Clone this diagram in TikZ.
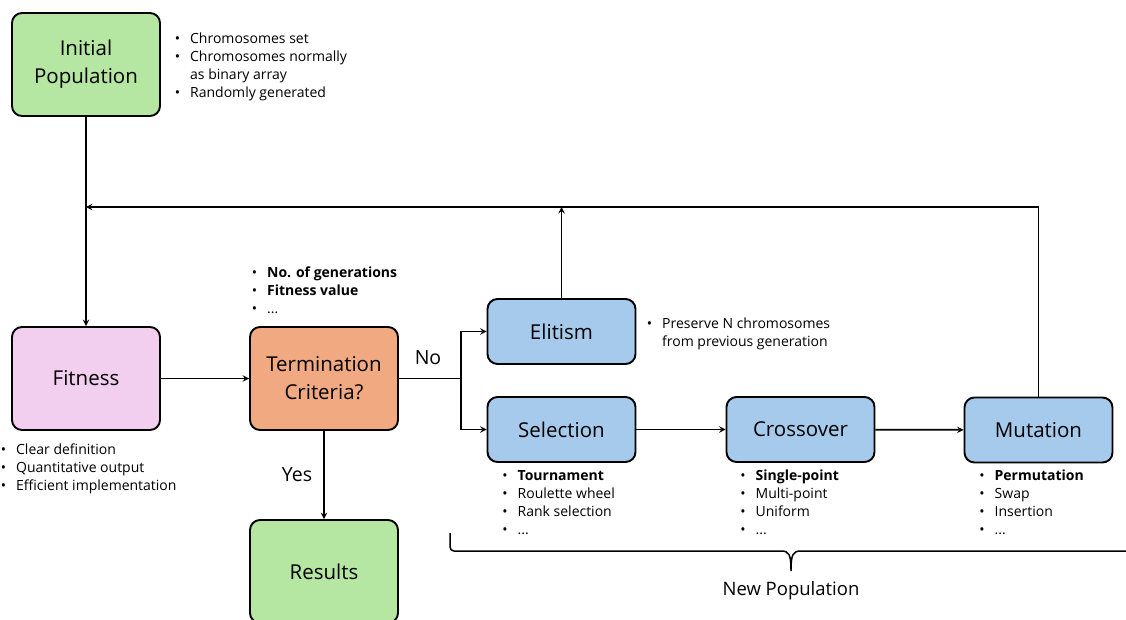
\documentclass[tikz,border=0pt]{standalone}
\usepackage{fontspec}
\setmainfont{Open Sans}
\usetikzlibrary{arrows, positioning}

\definecolor{boxgreen}{HTML}{B5E6A2}
\definecolor{boxpink}{HTML}{F2CEEF}
\definecolor{boxorange}{HTML}{F1A982}
\definecolor{boxblue}{HTML}{A6CAEC}

% bullet list: one row per item
\newcommand{\blist}[1]{{\fontsize{14}{18}\selectfont
    \begin{tabular}{@{}l@{\hspace{10pt}}l@{}}#1\end{tabular}}}

\begin{document}
\begin{tikzpicture}[x = 1pt, y = 1pt,
                > = stealth, % arrow head style
                line width = 1.8pt % line style
            ]

            \tikzset{box/.style = {draw = black, fill = boxblue, rounded corners = 10pt,
            line width = 1.9pt, minimum width = 148pt, minimum height = 103pt,
            align = center, font = \fontsize{20.5}{28}\selectfont},
            flat/.style = {box, minimum height = 65pt},
            note/.style = {anchor = north west, inner sep = 0pt},
            label/.style = {font = \fontsize{19.5}{22}\selectfont}}

            \useasboundingbox (0,0) rectangle (1126,-619);

            \node (init) [box, fill = boxgreen] at (86,-64.5) {Initial\\Population};
            \node (fit) [box, fill = boxpink] at (86,-378.5) {Fitness};
            \node (term) [box, fill = boxorange] at (324,-378.5) {Termination\\Criteria?};
            \node (res) [box, fill = boxgreen] at (324,-571.5) {Results};
            \node (elit) [flat] at (561.5,-331.5) {Elitism};
            \node (sel) [flat] at (561.5,-429.5) {Selection};
            \node (cross) [flat] at (800.5,-429.5) {Crossover};
            \node (mut) [flat] at (1038.5,-430) {Mutation};

            % notes next to the boxes
            \node (initnote) [note] at (174,-30) {\blist{\textbullet & Chromosomes set\\
            \textbullet & Chromosomes normally\\ & as binary array\\
            \textbullet & Randomly generated}};
            \node (termnote) [note] at (251,-264) {\blist{\textbullet & \textbf{No. of generations}\\
            \textbullet & \textbf{Fitness value}\\ \textbullet & ...}};
            \node (fitnote) [note] at (0,-441) {\blist{\textbullet & Clear definition\\
            \textbullet & Quantitative output\\ \textbullet & Efficient implementation}};
            \node (elitnote) [note] at (646,-315) {\blist{\textbullet & Preserve N chromosomes\\
            & from previous generation}};
            \node (selnote) [note, below right = 4pt and -60pt of sel.south] {\blist{\textbullet & \textbf{Tournament}\\
            \textbullet & Roulette wheel\\ \textbullet & Rank selection\\ \textbullet & ...}};
            \node (crossnote) [note, below right = 4pt and -61pt of cross.south] {\blist{\textbullet & \textbf{Single-point}\\
            \textbullet & Multi-point\\ \textbullet & Uniform\\ \textbullet & ...}};
            \node (mutnote) [note, below right = 4pt and -60pt of mut.south] {\blist{\textbullet & \textbf{Permutation}\\
            \textbullet & Swap\\ \textbullet & Insertion\\ \textbullet & ...}};

            \coordinate (back) at (86,-207);
            \coordinate (split) at (461,-378.5);

            \draw[->] (init) -- (fit);
            \draw[->] (fit) -- (term);
            \draw (term.east) -- (split);
            \draw[->] (split) |- (elit.west);
            \draw[->] (split) |- (sel.west);
            \draw[->] (term) -- (res);
            \draw[->] (sel) -- (cross);
            \draw[->] (cross) -- (mut);
            \draw[->] (mut.north) |- (back);
            \draw[->] (elit.north) -- (elit.north |- back);

            \node (no) [label] at (428,-358) {No};
            \node (yes) [label] at (297,-475) {Yes};

            % brace under the new population
            \coordinate (bl) at (450,-533);
            \coordinate (tip) at (791,-571);
            \draw[line width = 1.5pt, rounded corners = 4pt] (bl) |- (781,-551);
            \draw[line width = 1.5pt] (781,-551) .. controls (789,-551) and (791,-554) .. (tip)
            .. controls (791,-554) and (793,-551) .. (801,-551) -- (1130,-551);
            \node (newpop) [font = \fontsize{18.5}{22}\selectfont] at (791,-591) {New Population};
        \end{tikzpicture}
\end{document}
